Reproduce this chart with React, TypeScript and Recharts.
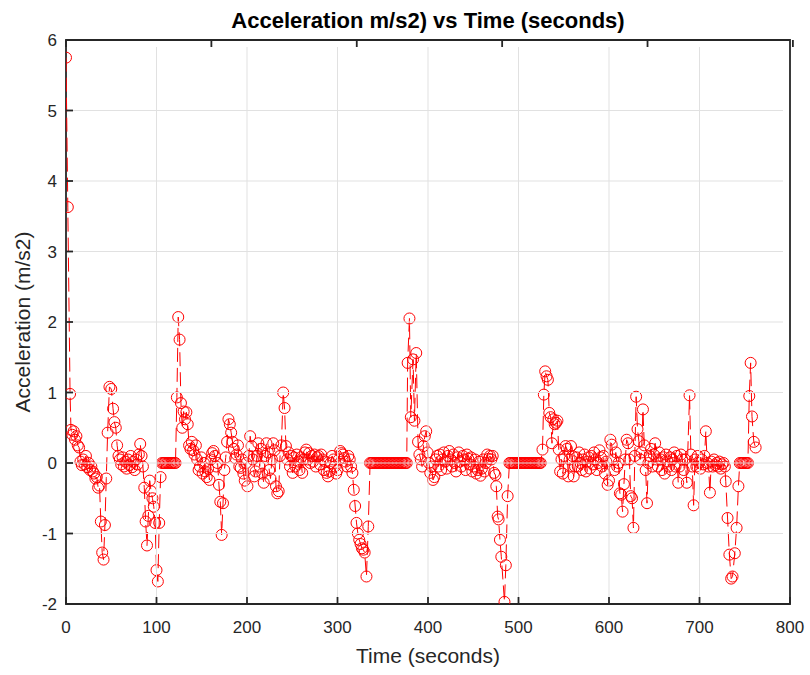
import React from 'react';
import { LineChart, Line, XAxis, YAxis, Label, ReferenceArea } from 'recharts';

const chartTitle = 'Acceleration m/s2) vs Time (seconds)';
const xLabel = 'Time (seconds)';
const yLabel = 'Acceleration (m/s2)';
const xTicks = [0, 100, 200, 300, 400, 500, 600, 700, 800];
const yTicks = [-2, -1, 0, 1, 2, 3, 4, 5, 6];

// [time (s), acceleration (m/s2)]
const startSamples: [number, number][] = [
  [0, 5.75], [2, 3.63], [4.5, 0.98], [5.5, 0.47], [7, 0.4], [8.5, 0.45], [10, 0.33], [11.5, 0.38],
  [13, 0.25], [14.5, 0.22], [16, 0.02], [17.5, -0.03], [19, 0.05], [20.5, -0.02], [22, 0.1],
  [23.5, -0.06], [25, 0], [26.5, -0.1], [28, -0.05], [29.5, -0.12], [31, -0.15], [32.5, -0.22],
  [34, -0.2], [35.5, -0.35], [37, -0.32], [38.5, -0.83], [40, -1.27], [41.5, -1.37], [43, -0.88],
  [44.5, -0.22], [46, 0.43], [48, 1.08], [50, 1.05], [52, 0.77], [53.5, 0.58], [55, 0.5],
  [56.5, 0.25], [58, 0.1], [59.5, 0.05], [61, -0.02], [62.5, 0.08], [64, -0.05], [65.5, 0.02],
  [67, -0.08], [68.5, 0.05], [70, -0.03], [71.5, 0.1], [73, -0.06], [74.5, 0.02], [76, -0.1],
  [77.5, 0.05], [79, -0.02], [80.5, 0.12], [82, 0.27], [83.5, 0.1], [85, -0.05], [86.5, -0.35],
  [88, -0.83], [89.5, -1.17], [91, -0.75], [92.5, -0.25], [94, -0.4], [95.5, -0.5], [97, -0.62],
  [98.5, -0.85], [100, -1.52], [101.5, -1.68], [103, -0.85], [104.5, -0.2],
];

const stillSamples1: [number, number][] = [
  [106, 0], [107.5, 0], [109, 0], [110.5, 0], [112, 0], [113.5, 0], [115, 0], [116.5, 0],
  [118, 0], [119.5, 0], [121, 0],
];

const midSamples1: [number, number][] = [
  [122.5, 0.93], [124, 2.07], [125.5, 1.75], [127, 0.85], [128.5, 0.5], [130, 0.73], [131.5, 0.62],
  [133, 0.72], [134.5, 0.55], [136, 0.25], [137.5, 0.2], [139, 0.3], [140.5, 0.18], [142, 0.12],
  [143.5, 0.25], [145, 0.05], [146.5, -0.1], [148, -0.05], [149.5, 0.08], [151, -0.15], [152.5, 0],
  [154, -0.12], [155.5, -0.2], [157, -0.08], [158.5, -0.24], [160, 0.05], [161.5, 0.14],
  [163, 0.17], [164.5, 0.1], [166, -0.05], [167.5, 0], [169, -0.31], [170.5, -0.55], [172, -1.02],
  [173.5, -0.57], [175, -0.1], [176.5, 0.08], [178, 0.3], [179.5, 0.62], [181, 0.55], [182.5, 0.43],
  [184, 0.3], [185.5, 0.2], [187, 0.07], [188.5, 0.12], [190, 0.25], [191.5, -0.05], [193, -0.07],
  [194.5, 0.05], [196, -0.15], [197.5, -0.25], [199, 0], [200.5, -0.33], [202, 0.1], [203.5, 0.38],
  [205, 0.24], [206.5, 0.05], [208, -0.19], [209.5, -0.12], [211, 0.1], [212.5, 0.28], [214, -0.05],
  [215.5, 0.2], [217, -0.15], [218.5, -0.28], [220, 0.1], [221.5, 0.28], [223, 0.15], [224.5, -0.1],
  [226, -0.22], [227.5, 0.05], [229, 0.28], [230.5, 0.18], [232, -0.33], [233.5, -0.43],
  [235, -0.4], [236.5, 0.1], [238, 0.25], [240, 1.0], [241.5, 0.78], [243, 0.24], [244.5, 0.05],
  [246, 0.15], [247.5, -0.05], [249, 0.1], [250.5, -0.14], [252, 0.08], [253.5, -0.05], [255, 0.12],
  [256.5, 0.02], [258, -0.1], [259.5, 0.08], [261, -0.14], [262.5, 0.05], [264, 0.15], [265.5, 0.19],
  [267, 0.05], [268.5, 0.14], [270, 0], [271.5, 0.1], [273, 0.02], [274.5, 0.12], [276, -0.05],
  [277.5, 0.08], [279, 0.1], [280.5, -0.02], [282, 0.12], [283.5, 0.05], [285, -0.1], [286.5, 0.02],
  [288, -0.14], [289.5, -0.19], [291, -0.12], [292.5, 0], [294, 0.1], [295.5, 0.05], [297, -0.05],
  [298.5, -0.15], [300, -0.1], [301.5, 0.05], [303, 0.17], [304.5, 0.14], [306, 0.12], [307.5, 0.07],
  [309, 0.02], [310.5, -0.05], [312, 0.1], [313.5, 0.05], [315, -0.05], [316.5, -0.14],
  [318, -0.38], [319.5, -0.61], [321, -0.85], [322.5, -1.0], [324, -1.09], [325.5, -1.15],
  [327, -1.21], [328.5, -1.23], [330, -1.27], [332, -1.61], [334, -0.9],
];

const stillSamples2: [number, number][] = [
  [336, 0], [337.5, 0], [339, 0], [340.5, 0], [342, 0], [343.5, 0], [345, 0], [346.5, 0], [348, 0],
  [349.5, 0], [351, 0], [352.5, 0], [354, 0], [355.5, 0], [357, 0], [358.5, 0], [360, 0], [361.5, 0],
  [363, 0], [364.5, 0], [366, 0], [367.5, 0], [369, 0], [370.5, 0], [372, 0], [373.5, 0], [375, 0],
  [376.5, 0],
];

const midSamples2: [number, number][] = [
  [377.5, 1.42], [379.5, 2.05], [381, 0.65], [383.5, 1.47], [385, 0.6], [387, 1.56], [389, 0.3],
  [390.5, 0.12], [392, 0.05], [393.5, -0.05], [395, 0.24], [396.5, 0.38], [398, 0.45], [399.5, 0.15],
  [401, 0], [402.5, -0.14], [404, -0.05], [405.5, -0.24], [407, -0.2], [408.5, 0.05], [410, 0.1],
  [411.5, -0.05], [413, 0.12], [414.5, -0.1], [416, 0.05], [417.5, 0.15], [419, 0.02], [420.5, -0.08],
  [422, 0.1], [423.5, 0.17], [425, 0.05], [426.5, -0.05], [428, 0.12], [429.5, 0], [431, -0.12],
  [432.5, 0.08], [434, 0.15], [435.5, 0.02], [437, -0.05], [438.5, 0.1], [440, 0.05], [441.5, -0.1],
  [443, 0.12], [444.5, 0.06], [446, -0.02], [447.5, 0.08], [449, -0.12], [450.5, -0.05], [452, 0.05],
  [453.5, -0.15], [455, -0.1], [456.5, 0.02], [458, -0.18], [459.5, -0.08], [461, 0.05],
  [462.5, -0.12], [464, 0], [465.5, 0.12], [467, 0.06], [468.5, 0.1], [470, 0.05], [471.5, 0.1],
  [473, -0.14], [474.5, -0.17], [475.5, -0.33], [477, -0.76], [478, -0.8], [479.5, -1.09],
  [481, -1.33], [484.5, -1.97], [486, -1.45], [488, -0.47],
];

const stillSamples3: [number, number][] = [
  [490, 0], [491.5, 0], [493, 0], [494.5, 0], [496, 0], [497.5, 0], [499, 0], [500.5, 0], [502, 0],
  [503.5, 0], [505, 0], [506.5, 0], [508, 0], [509.5, 0], [511, 0], [512.5, 0], [514, 0], [515.5, 0],
  [517, 0], [518.5, 0], [520, 0], [521.5, 0], [523, 0], [524.5, 0],
];

const midSamples3: [number, number][] = [
  [526.5, 0.19], [528, 0.97], [529.5, 1.3], [531, 1.23], [532.5, 1.18], [534, 0.71], [535.5, 0.65],
  [537, 0.28], [538.5, 0.62], [540, 0.55], [541.5, 0.57], [543, 0.6], [544.5, 0.19], [546, -0.12],
  [547.5, 0.05], [549, -0.15], [550.5, 0.1], [552, 0.24], [553.5, 0.2], [555, -0.19], [556.5, 0.05],
  [558, 0.24], [559.5, 0.1], [561, -0.19], [562.5, -0.05], [564, 0.08], [565.5, -0.05], [567, 0.15],
  [568.5, 0], [570, -0.1], [571.5, 0.05], [573, 0.12], [574.5, -0.12], [576, 0.02], [577.5, 0.08],
  [579, -0.08], [580.5, 0.1], [582, -0.02], [583.5, 0.15], [585, 0.05], [586.5, -0.1], [588, 0],
  [589.5, 0.18], [591, 0.08], [592.5, -0.05], [594, 0.1], [595.5, -0.15], [597, 0.02], [598.5, -0.31],
  [600, -0.25], [601.5, 0.33], [603, 0.26], [604.5, 0.05], [606, -0.1], [607.5, 0.15], [609, -0.05],
  [610.5, 0], [612, -0.43], [613.5, -0.45], [615, -0.69], [616.5, -0.3], [618, 0.05], [619.5, 0.33],
  [621, 0.28], [622.5, 0.05], [624, -0.47], [625.5, -0.5], [627, -0.92], [628.5, 0.1], [630, 0.94],
  [631.5, 0.48], [633, 0.31], [634.5, 0.05], [636, 0.15], [637.5, 0.76], [639, 0.25], [640.5, -0.1],
  [642, -0.57], [643.5, 0], [645, 0.1], [646.5, 0.2], [648, -0.05], [649.5, 0.12], [651, 0.28],
  [652.5, 0.05], [654, -0.05], [655.5, 0.15], [657, 0.05], [658.5, -0.1], [660, 0.08], [661.5, -0.15],
  [663, 0.12], [664.5, 0.02], [666, -0.05], [667.5, 0.08], [669, -0.1], [670.5, 0.05], [672, 0.15],
  [673.5, -0.05], [675, 0.1], [676.5, -0.28], [678, -0.05], [679.5, 0.12], [681, 0.05], [682.5, -0.1],
  [684, 0.05], [686, -0.28], [689, 0.96], [690.5, 0.12], [692, -0.05], [693.5, -0.6], [695, 0.05],
  [696.5, -0.05], [698, 0.1], [699.5, 0], [701, -0.08], [702.5, 0.05], [704, -0.02], [705.5, 0.1],
  [707, 0.45], [708.5, 0], [710, -0.05], [711.5, -0.42], [713, 0.02], [714.5, -0.05], [716, 0.05],
  [717.5, -0.03], [719, 0], [720.5, -0.05], [722, 0.02], [723.5, -0.08], [725, -0.02], [726.5, 0],
  [728, -0.05], [729, -0.26], [731, -0.78], [733, -1.3], [735, -1.64], [736.5, -1.61], [739, -1.28],
  [741, -0.92], [743, -0.33],
];

const endSamples: [number, number][] = [
  [744.5, 0], [746, 0], [747.5, 0], [749, 0], [750.5, 0], [752, 0], [753.5, 0], [755, 0.95],
  [756.5, 1.42], [758, 0.66], [760, 0.3], [762, 0.22],
];

const data = [
  ...startSamples, ...stillSamples1, ...midSamples1, ...stillSamples2, ...midSamples2,
  ...stillSamples3, ...midSamples3, ...endSamples,
].map(([t, a]) => ({ t, a }));

const AXIS = '#262626';
const GRID = '#e1e1e1';
const FONT = '"Liberation Sans", Arial, Helvetica, sans-serif';
const RED = '#ff0000';
const CHART_W = 810;
const CHART_H = 675;
const MARGIN = { top: 39, right: 19, bottom: 0, left: 0 };
const X_AXIS_H = 71;
const Y_AXIS_W = 66;
const PLOT_W = CHART_W - MARGIN.left - MARGIN.right - Y_AXIS_W - 1;
const PLOT_H = CHART_H - MARGIN.top - MARGIN.bottom - X_AXIS_H - 1;
const TICK = 7;
const FRAME_W = 1.8;

const BottomTick = (p: any) => {
  const v = p.payload.value;
  const inner = v !== xTicks[0] && v !== xTicks[xTicks.length - 1];
  return (
    <g>
      {inner && (
        <line x1={p.x} y1={p.y - TICK} x2={p.x} y2={p.y - PLOT_H + TICK} stroke={GRID} strokeWidth={1} />
      )}
      <line x1={p.x} y1={p.y} x2={p.x} y2={p.y - TICK} stroke={AXIS} strokeWidth={FRAME_W} />
      <text x={p.x} y={p.y + 29} textAnchor="middle" fontSize={17} fill={AXIS} fontFamily={FONT}>
        {v}
      </text>
    </g>
  );
};
const TopTick = (p: any) => (
  <line x1={p.x} y1={p.y} x2={p.x} y2={p.y + TICK} stroke={AXIS} strokeWidth={FRAME_W} />
);
const LeftTick = (p: any) => {
  const v = p.payload.value;
  const inner = v !== yTicks[0] && v !== yTicks[yTicks.length - 1];
  return (
    <g>
      {inner && (
        <line x1={p.x + TICK} y1={p.y} x2={p.x + PLOT_W - TICK} y2={p.y} stroke={GRID} strokeWidth={1} />
      )}
      <line x1={p.x} y1={p.y} x2={p.x + TICK} y2={p.y} stroke={AXIS} strokeWidth={FRAME_W} />
      <text x={p.x - 9} y={p.y + 6} textAnchor="end" fontSize={17} fill={AXIS} fontFamily={FONT}>
        {v}
      </text>
    </g>
  );
};
const RightTick = (p: any) => (
  <line x1={p.x} y1={p.y} x2={p.x - TICK} y2={p.y} stroke={AXIS} strokeWidth={FRAME_W} />
);

const renderXLabel = (p: any) => {
  const vb = p.viewBox;
  return (
    <text x={vb.x + vb.width / 2} y={663} textAnchor="middle" fontSize={21} fill={AXIS} fontFamily={FONT}>
      {xLabel}
    </text>
  );
};
const renderYLabelAndTitle = (p: any) => {
  const vb = p.viewBox;
  const cy = vb.y + vb.height / 2;
  const left = vb.x + vb.width;
  const cx = left + PLOT_W / 2;
  return (
    <g>
      <text x={30} y={cy} transform={`rotate(-90, 30, ${cy})`} textAnchor="middle" fontSize={21} fill={AXIS} fontFamily={FONT}>
        {yLabel}
      </text>
      <text x={cx} y={28} textAnchor="middle" fontSize={22} fontWeight="bold" fill="#000" fontFamily={FONT}>
        {chartTitle}
      </text>
    </g>
  );
};

const renderDot = (p: any) => (
  <circle key={`dot-${p.index}`} cx={p.cx} cy={p.cy} r={5.5} fill="none" stroke={RED} strokeWidth={1} />
);

export default function App() {
  return (
    <div style={{ position: 'absolute', left: 0, top: 0, width: CHART_W, height: CHART_H, background: '#fff' }}>
      <LineChart width={CHART_W} height={CHART_H} data={data} margin={MARGIN}>
        <XAxis
          xAxisId="b"
          dataKey="t"
          type="number"
          domain={[0, 800]}
          ticks={xTicks}
          height={X_AXIS_H}
          tickSize={0}
          tickMargin={0}
          tick={BottomTick}
          axisLine={false}
          tickLine={false}
          interval={0}
          allowDataOverflow
        >
          <Label content={renderXLabel} />
        </XAxis>
        <XAxis
          xAxisId="t"
          orientation="top"
          type="number"
          domain={[0, 800]}
          ticks={xTicks}
          height={1}
          tickSize={0}
          tickMargin={0}
          tick={TopTick}
          axisLine={false}
          tickLine={false}
          interval={0}
        />
        <YAxis
          yAxisId="l"
          type="number"
          domain={[-2, 6]}
          ticks={yTicks}
          width={Y_AXIS_W}
          tickSize={0}
          tickMargin={0}
          tick={LeftTick}
          axisLine={false}
          tickLine={false}
          interval={0}
          allowDataOverflow
        >
          <Label content={renderYLabelAndTitle} />
        </YAxis>
        <YAxis
          yAxisId="r"
          orientation="right"
          type="number"
          domain={[-2, 6]}
          ticks={yTicks}
          width={1}
          tickSize={0}
          tickMargin={0}
          tick={RightTick}
          axisLine={false}
          tickLine={false}
          interval={0}
        />
        <ReferenceArea
          xAxisId="b"
          yAxisId="l"
          x1={0}
          x2={800}
          y1={-2}
          y2={6}
          fill="none"
          fillOpacity={0}
          stroke={AXIS}
          strokeWidth={FRAME_W}
          ifOverflow="visible"
        />
        <Line
          xAxisId="b"
          yAxisId="l"
          type="linear"
          dataKey="a"
          stroke={RED}
          strokeWidth={1}
          strokeDasharray="14 6"
          dot={renderDot}
          activeDot={false}
          isAnimationActive={false}
        />
      </LineChart>
    </div>
  );
}
